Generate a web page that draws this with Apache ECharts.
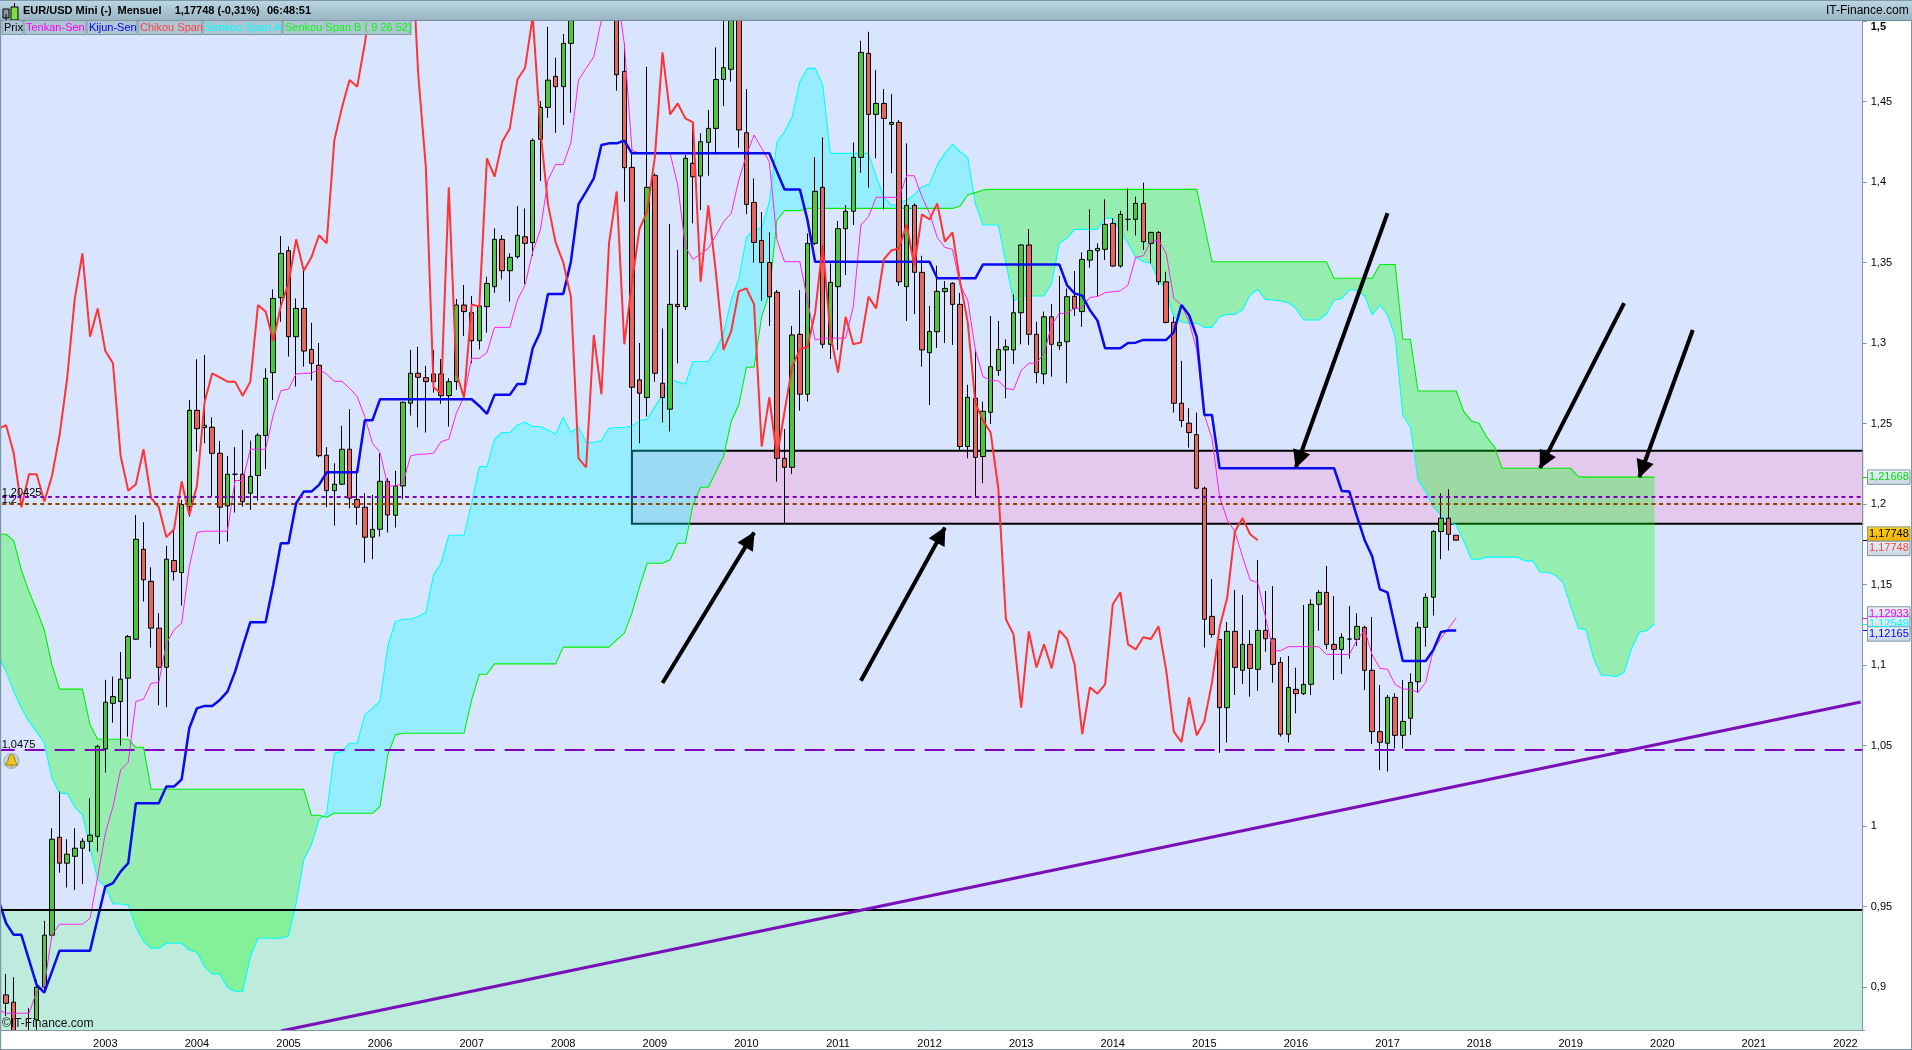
<!DOCTYPE html>
<html><head><meta charset="utf-8"><title>EUR/USD Mini</title>
<style>html,body{margin:0;padding:0;background:#fff}#c{width:1912px;height:1050px}</style>
<script src="https://cdn.jsdelivr.net/npm/echarts@6/dist/echarts.min.js"></script></head>
<body><div id="c"></div>
<script>
// monthly periods, index 0 = 2001-11
const categories = [];
for (let i = 0, y = 2001, m = 11; i < 245; i++) { categories.push(y + '-' + String(m).padStart(2, '0')); m++; if (m > 12) { m = 1; y++; } }
const yTicks = [0.9, 0.95, 1, 1.05, 1.1, 1.15, 1.2, 1.25, 1.3, 1.35, 1.4, 1.45, 1.5];

const opens = [.888,
.8951,.8906,.868,.865,.8796,.8999,.9322,.993,.9769,.9812,
.9862,.9905,.9936,1.0479,1.0762,1.0773,1.0918,1.116,1.1719,1.152,
1.1229,1.0986,1.1649,1.1574,1.1984,1.2582,1.2475,1.2477,1.2315,1.1988,
1.2185,1.2185,1.2067,1.2177,1.2425,1.2816,1.3281,1.3573,1.3039,1.3215,
1.296,1.2862,1.2303,1.2083,1.2123,1.234,1.2028,1.198,1.1794,1.1843,
1.2141,1.193,1.2112,1.2626,1.2812,1.2785,1.2808,1.2808,1.2673,1.276,
1.3236,1.319,1.3014,1.3226,1.335,1.3644,1.3449,1.3536,1.366,1.3623,
1.4265,1.4463,1.4656,1.4592,1.4861,1.5185,1.5806,1.561,1.5553,1.5755,
1.5595,1.4687,1.4091,1.2771,1.2661,1.4041,1.275,1.2589,1.324,1.3226,
1.4116,1.4037,1.4246,1.4333,1.4637,1.47,1.503,1.4306,1.3873,1.3637,
1.35,1.3315,1.2284,1.2228,1.3054,1.2682,1.3619,1.3967,1.2992,1.335,
1.371,1.3818,1.4153,1.4799,1.442,1.4488,1.4358,1.437,1.335,1.3855,
1.3439,1.294,1.307,1.3319,1.3371,1.324,1.2357,1.2657,1.2295,1.257,
1.2829,1.2957,1.2957,1.3188,1.3609,1.3054,1.2808,1.3163,1.2983,1.3008,
1.329,1.3195,1.3515,1.3573,1.3582,1.3743,1.3478,1.3768,1.3768,1.3867,
1.3619,1.3687,1.338,1.3128,1.2626,1.2502,1.2431,1.2098,1.1302,1.1159,
1.0735,1.1209,1.0967,1.1128,1.0973,1.1215,1.1163,1.1016,1.057,1.0849,
1.0822,1.088,1.1377,1.1451,1.1128,1.1097,1.1161,1.1159,1.1234,1.0967,
1.0586,1.0514,1.0799,1.0563,1.0669,1.0896,1.1234,1.1421,1.1829,1.1912,
1.1806];
const closes = [.8951,
.8899,.868,.865,.872,.8999,.9322,.9918,.9769,.9825,.9862,
.9905,.9943,1.0495,1.0769,1.0804,1.0912,1.1177,1.1781,1.1529,1.1229,
1.0986,1.1657,1.158,1.1997,1.2582,1.2468,1.2489,1.2315,1.198,1.2185,
1.2185,1.2015,1.2172,1.2427,1.2781,1.3277,1.3557,1.3039,1.3215,1.295,
1.2874,1.23,1.2083,1.2123,1.234,1.2036,1.198,1.1794,1.1843,1.2141,
1.1932,1.2112,1.2632,1.2812,1.2787,1.276,1.276,1.2673,1.276,1.3236,
1.3195,1.3014,1.323,1.337,1.3644,1.3449,1.3532,1.3669,1.3619,1.4258,
1.4463,1.4633,1.4592,1.4861,1.5185,1.5806,1.561,1.5553,1.5755,1.5595,
1.4666,1.4089,1.2725,1.2688,1.3967,1.2812,1.2661,1.324,1.3226,1.4147,
1.4033,1.425,1.4333,1.4637,1.471,1.503,1.4323,1.3861,1.3625,1.35,
1.3287,1.2284,1.2228,1.305,1.2682,1.3619,1.3942,1.2992,1.3377,1.371,
1.3818,1.4153,1.4805,1.442,1.4488,1.4395,1.437,1.338,1.3855,1.3439,
1.2957,1.3072,1.3321,1.3339,1.324,1.2357,1.2663,1.229,1.2576,1.2853,
1.296,1.2977,1.3188,1.3609,1.3054,1.2816,1.3163,1.2992,1.3004,1.3288,
1.3215,1.3519,1.3575,1.3588,1.3737,1.3478,1.3799,1.3768,1.3867,1.3629,
1.3687,1.338,1.3128,1.2626,1.2518,1.2444,1.2098,1.1284,1.119,1.0735,
1.1209,1.0985,1.1128,1.0979,1.1215,1.1163,1.1004,1.057,1.0861,1.0822,
1.088,1.1377,1.1451,1.1128,1.1097,1.1172,1.1161,1.124,1.0967,1.0586,
1.052,1.0799,1.0563,1.065,1.0892,1.1234,1.142,1.1829,1.1912,1.1812,
1.1775];
const lows = [.875,
.882,.86,.855,.86,.8734,.8982,.9299,.971,.9618,.9603,
.964,.9841,.9841,1.0332,1.0642,1.05,1.0555,1.1156,1.1394,1.1108,
1.075,1.0737,1.1525,1.1369,1.1922,1.2326,1.2377,1.2046,1.1752,1.1767,
1.1947,1.1984,1.1963,1.2021,1.2218,1.2646,1.3132,1.2916,1.273,1.2853,
1.2767,1.229,1.198,1.1866,1.2118,1.1974,1.187,1.1636,1.1657,1.1798,
1.1823,1.1854,1.203,1.2549,1.2475,1.2444,1.2692,1.2622,1.2481,1.2709,
1.3043,1.2874,1.296,1.3064,1.3312,1.3395,1.3257,1.3524,1.3366,1.354,
1.4006,1.4399,1.4306,1.4354,1.443,1.51,1.55,1.53,1.53,1.55,
1.4567,1.3877,1.2336,1.2377,1.2543,1.276,1.2506,1.245,1.2874,1.3205,
1.3743,1.3826,1.4039,1.4171,1.4472,1.4623,1.4213,1.38,1.35,1.3262,
1.3106,1.2139,1.188,1.2187,1.258,1.2636,1.3609,1.2967,1.29,1.2957,
1.3422,1.3733,1.4058,1.3965,1.4147,1.383,1.4054,1.3354,1.3137,1.318,
1.2853,1.2615,1.297,1.3,1.2988,1.2336,1.2284,1.2046,1.2129,1.2497,
1.2796,1.2657,1.287,1.2992,1.2988,1.275,1.2744,1.2791,1.2957,1.275,
1.3168,1.3101,1.3468,1.3288,1.3515,1.3474,1.3468,1.3698,1.3667,1.3578,
1.3495,1.336,1.3122,1.2568,1.2477,1.235,1.2092,1.1108,1.117,1.0455,
1.0518,1.0814,1.0882,1.0803,1.084,1.1083,1.089,1.0555,1.0518,1.07,
1.0814,1.0814,1.1213,1.1097,1.0907,1.0944,1.104,1.1118,1.0845,1.051,
1.0348,1.0338,1.0482,1.0482,1.0565,1.0828,1.1114,1.1307,1.1657,1.1711,
1.1775];
const highs = [.905,
.9081,.9061,.872,.8868,.9044,.9411,.9986,1.0214,.9918,.9986,
.9924,1.0172,1.0504,1.0908,1.0928,1.108,1.1187,1.1932,1.1887,1.1607,
1.1322,1.174,1.1839,1.2025,1.2646,1.2899,1.2926,1.2539,1.2392,1.2299,
1.2353,1.246,1.2394,1.244,1.2843,1.3333,1.3664,1.36,1.3277,1.3453,
1.3126,1.3,1.2353,1.2253,1.2485,1.2589,1.2216,1.2067,1.2057,1.2315,
1.216,1.2206,1.2636,1.2957,1.2977,1.2858,1.2957,1.29,1.2781,1.3273,
1.336,1.3292,1.3238,1.3412,1.3712,1.367,1.3557,1.385,1.3836,1.4271,
1.4503,1.4964,1.4772,1.4919,1.5225,1.5906,1.6019,1.5816,1.5845,1.6038,
1.5,1.4861,1.4174,1.3,1.4716,1.4054,1.309,1.3739,1.3578,1.4167,
1.4374,1.4302,1.4447,1.4836,1.5034,1.5144,1.515,1.4577,1.4022,1.3813,
1.3687,1.3329,1.2466,1.3106,1.3329,1.3681,1.4153,1.4277,1.3495,1.3758,
1.3857,1.4246,1.4877,1.4933,1.4695,1.4577,1.4546,1.4385,1.424,1.3867,
1.3542,1.323,1.348,1.3385,1.3377,1.331,1.274,1.2957,1.2636,1.3167,
1.3137,1.3023,1.3302,1.3613,1.3708,1.3132,1.3195,1.3242,1.3416,1.3339,
1.3447,1.3563,1.383,1.3619,1.3892,1.3774,1.3822,1.396,1.3909,1.3996,
1.3691,1.3695,1.3443,1.3163,1.2889,1.2595,1.2568,1.2108,1.1534,1.1159,
1.1267,1.1466,1.1435,1.1217,1.1652,1.146,1.1491,1.1048,1.1056,1.0983,
1.1373,1.1408,1.1466,1.1615,1.1428,1.1197,1.1366,1.1321,1.1244,1.1298,
1.0876,1.0814,1.0824,1.0907,1.0948,1.1267,1.1445,1.1839,1.2067,1.2092,
1.1806];
const tenkan = [.8858,
.8837,.8837,.8837,.8837,.8972,.9003,.9324,.939,.939,.939,
.939,.9427,.9686,.9955,1.0121,1.0348,1.0396,1.0773,1.0788,1.0887,
1.0891,1.1135,1.1218,1.126,1.1611,1.1823,1.1831,1.1831,1.1831,1.1831,
1.2146,1.2146,1.234,1.234,1.234,1.2553,1.2704,1.2713,1.2808,1.2812,
1.2812,1.2839,1.2806,1.2762,1.2762,1.2719,1.2667,1.2543,1.2377,1.2321,
1.2112,1.2112,1.2129,1.2299,1.2309,1.231,1.2315,1.2388,1.2402,1.2564,
1.2667,1.2905,1.2905,1.294,1.3097,1.3097,1.3097,1.3267,1.336,1.3567,
1.3702,1.4012,1.4109,1.4109,1.4244,1.4633,1.4706,1.4778,1.5006,1.52,
1.52,1.486,1.4198,1.4178,1.4178,1.4178,1.4178,1.4178,1.3981,1.3598,
1.352,1.3551,1.3588,1.3666,1.3753,1.3805,1.4012,1.4167,1.4292,1.4209,
1.4126,1.364,1.3505,1.3505,1.3505,1.3267,1.3019,1.303,1.303,1.303,
1.303,1.3226,1.3733,1.3785,1.3905,1.3905,1.3905,1.3905,1.4039,1.4039,
1.3909,1.3805,1.3656,1.3594,1.3582,1.336,1.3267,1.2957,1.2791,1.2767,
1.2765,1.2719,1.2709,1.283,1.2874,1.2874,1.2936,1.3112,1.3184,1.3184,
1.3215,1.3221,1.3283,1.3288,1.3313,1.3319,1.3323,1.336,1.3532,1.3542,
1.3629,1.364,1.3557,1.3277,1.3236,1.3132,1.2957,1.2553,1.2408,1.2046,
1.1901,1.1829,1.1674,1.1528,1.1511,1.13,1.1089,1.1089,1.1114,1.1114,
1.1114,1.1114,1.1114,1.1066,1.1066,1.1066,1.1066,1.1155,1.1217,1.1062,
1.098,1.0973,1.088,1.0851,1.0849,1.083,1.0892,1.1093,1.1166,1.1228,
1.1293];
const kijun = [.9541,
.9396,.9324,.9324,.9168,.9013,.8965,.9096,.9226,.9226,.9226,
.9226,.9226,.9427,.9624,.9645,.9717,.9769,1.0141,1.0141,1.0141,
1.0141,1.0245,1.0245,1.029,1.0607,1.0731,1.0746,1.0746,1.0783,1.0835,
1.0959,1.1115,1.1266,1.1266,1.1266,1.1498,1.1756,1.1756,1.2005,1.2077,
1.2077,1.2119,1.2197,1.2197,1.2197,1.2197,1.2197,1.252,1.252,1.2651,
1.2651,1.2651,1.2651,1.2651,1.2651,1.2651,1.2651,1.2651,1.2651,1.2651,
1.2651,1.2651,1.2609,1.256,1.2678,1.2678,1.2678,1.2746,1.2746,1.2967,
1.307,1.3304,1.3304,1.3304,1.3505,1.3863,1.394,1.4023,1.423,1.424,
1.424,1.4257,1.4178,1.4178,1.4178,1.4178,1.4178,1.4178,1.4178,1.4178,
1.4178,1.4178,1.4178,1.4178,1.4178,1.4178,1.4178,1.4178,1.4178,1.4178,
1.4178,1.4064,1.3954,1.3954,1.3954,1.3764,1.3505,1.3505,1.3505,1.3505,
1.3505,1.3505,1.3505,1.3505,1.3505,1.3505,1.3505,1.3505,1.3505,1.3505,
1.3505,1.3505,1.3402,1.3402,1.3402,1.3402,1.3402,1.3402,1.3488,1.3488,
1.3488,1.3488,1.3488,1.3488,1.3488,1.3488,1.3488,1.3488,1.3488,1.336,
1.3308,1.3294,1.3205,1.3139,1.2967,1.2967,1.2967,1.3,1.3002,1.3019,
1.3019,1.3019,1.3019,1.3066,1.3236,1.3174,1.3039,1.2553,1.2553,1.2222,
1.2222,1.2222,1.2222,1.2222,1.2222,1.2222,1.2222,1.2222,1.2222,1.2222,
1.2222,1.2222,1.2222,1.2222,1.2222,1.2081,1.2077,1.1922,1.1777,1.1674,
1.147,1.1451,1.1238,1.1025,1.1025,1.1025,1.1025,1.1093,1.1205,1.1215,
1.1215];
const chikou = [1.2468,
1.2489,1.2315,1.198,1.2185,1.2185,1.2015,1.2172,1.2427,1.2781,1.3277,
1.3557,1.3039,1.3215,1.295,1.2874,1.23,1.2083,1.2123,1.234,1.2036,
1.198,1.1794,1.1843,1.2141,1.1932,1.2112,1.2632,1.2812,1.2787,1.276,
1.276,1.2673,1.276,1.3236,1.3195,1.3014,1.323,1.337,1.3644,1.3449,
1.3532,1.3669,1.3619,1.4258,1.4463,1.4633,1.4592,1.4861,1.5185,1.5806,
1.561,1.5553,1.5755,1.5595,1.4666,1.4089,1.2725,1.2688,1.3967,1.2812,
1.2661,1.324,1.3226,1.4147,1.4033,1.425,1.4333,1.4637,1.471,1.503,
1.4323,1.3861,1.3625,1.35,1.3287,1.2284,1.2228,1.305,1.2682,1.3619,
1.3942,1.2992,1.3377,1.371,1.3818,1.4153,1.4805,1.442,1.4488,1.4395,
1.437,1.338,1.3855,1.3439,1.2957,1.3072,1.3321,1.3339,1.324,1.2357,
1.2663,1.229,1.2576,1.2853,1.296,1.2977,1.3188,1.3609,1.3054,1.2816,
1.3163,1.2992,1.3004,1.3288,1.3215,1.3519,1.3575,1.3588,1.3737,1.3478,
1.3799,1.3768,1.3867,1.3629,1.3687,1.338,1.3128,1.2626,1.2518,1.2444,
1.2098,1.1284,1.119,1.0735,1.1209,1.0985,1.1128,1.0979,1.1215,1.1163,
1.1004,1.057,1.0861,1.0822,1.088,1.1377,1.1451,1.1128,1.1097,1.1172,
1.1161,1.124,1.0967,1.0586,1.052,1.0799,1.0563,1.065,1.0892,1.1234,
1.142,1.1829,1.1912,1.1812,1.1775];
const senkouA = [1.1053,
1.0959,1.0835,1.0731,1.0648,1.0586,1.0514,1.0297,1.0203,1.0203,1.0116,
1.0069,.9862,.967,.9624,.9516,.9516,.951,.9375,.9282,.9241,
.9241,.9272,.9272,.9272,.923,.9216,.9127,.9081,.9081,.8999,
.8972,.8972,.9189,.9303,.9303,.9303,.9303,.9317,.952,.9789,
.9883,1.0038,1.0079,1.0452,1.0462,1.0514,1.0514,1.069,1.0731,1.0777,
1.1115,1.127,1.1284,1.1284,1.1301,1.1326,1.156,1.1632,1.1806,1.1806,
1.1806,1.2005,1.2232,1.2232,1.2402,1.2444,1.2444,1.2491,1.2508,1.2481,
1.2481,1.246,1.2433,1.2539,1.2444,1.2481,1.2384,1.2382,1.2394,1.2471,
1.2475,1.2475,1.2485,1.2518,1.2526,1.2605,1.2678,1.2771,1.276,1.2744,
1.2885,1.2885,1.2885,1.2957,1.306,1.3267,1.3395,1.3656,1.3702,1.3712,
1.3878,1.425,1.4312,1.4406,1.4623,1.4706,1.4706,1.4602,1.4178,1.4178,
1.4178,1.4178,1.4178,1.4178,1.4033,1.3909,1.3853,1.3867,1.3888,1.3919,
1.3971,1.3987,1.4105,1.4178,1.4234,1.4188,1.4153,1.3863,1.3733,1.3733,
1.3733,1.3495,1.3261,1.3292,1.3292,1.3292,1.3292,1.337,1.3619,1.365,
1.3706,1.3706,1.3706,1.3706,1.3774,1.3774,1.3691,1.3619,1.3532,1.3505,
1.3495,1.3391,1.3329,1.3163,1.3132,1.3122,1.3122,1.3097,1.3097,1.3163,
1.3178,1.3178,1.3205,1.3298,1.3333,1.3271,1.3267,1.3261,1.325,1.3215,
1.3143,1.3143,1.3143,1.318,1.3267,1.3277,1.3329,1.3329,1.3292,1.3174,
1.3236,1.3174,1.3039,1.2553,1.2477,1.215,1.2077,1.1984,1.1932,1.1891,
1.187,1.1767,1.1657,1.1657,1.167,1.167,1.167,1.167,1.167,1.1647,
1.1647,1.1576,1.1576,1.1558,1.1512,1.1363,1.1229,1.1218,1.1042,1.0937,
1.0935,1.0928,1.0953,1.1104,1.1204,1.1214,1.1255];
const senkouB = [1.1814,
1.1812,1.1773,1.159,1.1456,1.1342,1.1218,1.1001,1.085,1.085,1.085,
1.085,1.0628,1.0539,1.0539,1.0539,1.0539,1.0539,1.0489,1.0489,1.0228,
1.0228,1.0228,1.0228,1.0228,1.0228,1.0228,1.0228,1.0228,1.0228,1.0228,
1.0228,1.0228,1.0228,1.0228,1.0228,1.0228,1.0228,1.0228,1.0228,1.0228,
1.0067,1.0067,1.0054,1.0079,1.0079,1.0079,1.0079,1.0079,1.0079,1.0121,
1.0441,1.0566,1.0576,1.0576,1.0576,1.0576,1.0576,1.0576,1.0576,1.0576,
1.0576,1.0783,1.0943,1.0943,1.1007,1.1007,1.1007,1.1007,1.1007,1.1007,
1.1007,1.1007,1.1007,1.1111,1.1111,1.1111,1.1111,1.1111,1.1111,1.1111,
1.1156,1.1198,1.1322,1.1487,1.1632,1.1632,1.1632,1.1653,1.1756,1.1756,
1.1994,1.2104,1.2104,1.2201,1.2295,1.2512,1.2615,1.2849,1.2849,1.3164,
1.3308,1.3764,1.3822,1.3822,1.3822,1.3836,1.3836,1.3836,1.3836,1.3836,
1.3836,1.3836,1.3836,1.3836,1.3836,1.3836,1.3836,1.3836,1.3836,1.3836,
1.3836,1.3836,1.3836,1.3836,1.3836,1.3851,1.3919,1.3934,1.395,1.3954,
1.3954,1.3954,1.3954,1.3954,1.3954,1.3954,1.3954,1.3954,1.3954,1.3954,
1.3954,1.3954,1.3954,1.3954,1.3954,1.3954,1.3954,1.3954,1.3954,1.3954,
1.3954,1.3954,1.3954,1.3954,1.3954,1.3954,1.3954,1.3733,1.3505,1.3505,
1.3505,1.3505,1.3505,1.3505,1.3505,1.3505,1.3505,1.3505,1.3505,1.3505,
1.3505,1.3505,1.3505,1.3505,1.3402,1.3402,1.3402,1.3402,1.3402,1.3402,
1.3488,1.3488,1.3488,1.3023,1.3023,1.2702,1.2702,1.2702,1.2702,1.2702,
1.2702,1.2574,1.2516,1.2501,1.2415,1.2357,1.2222,1.2222,1.2222,1.2222,
1.2222,1.2222,1.2222,1.2222,1.2222,1.2222,1.217,1.2167,1.2167,1.2167,
1.2167,1.2167,1.2167,1.2167,1.2167,1.2167,1.2167];

// annotations: [from index, from price, to index, to price]
const arrows = [[87,1.0888,99,1.1822],[113,1.0902,124,1.1853],[182,1.3807,170,1.2228],[213,1.3248,202,1.2224],[222,1.3081,215,1.2168]];
const trendLine = [[37,.8727],[244,1.077]];
const supportBand = [83,1.2331,1.1878];       // start index, top, bottom
const lowerZoneTop = .948;
const pivots = [{v:1.20425,t:'1,20425',c:'#8000c0',d:[4,3.6]},{v:1.2,t:'1,2',c:'#8c4400',d:[4,3.6]},{v:1.0475,t:'1,0475',c:'#8000c0',d:[20,10]}];
const lastLabels = [
 {v:1.21668,t:'1,21668',c:'#00e000',off:0,tick:'#00e000'},
 {v:1.17748,t:'1,17748',c:'#000',off:-6.2,gold:true,tick:'#000'},
 {v:1.17748,t:'1,17748',c:'#ff4040',off:8.2},
 {v:1.12933,t:'1,12933',c:'#ff00ff',off:-3.8,tick:'#ff00ff'},
 {v:1.12549,t:'1,12549',c:'#00ffff',off:0,tick:'#00ffff'},
 {v:1.12165,t:'1,12165',c:'#0000ff',off:3.8,tick:'#0000ff'}
];
const legendTabs = [['Prix','#000',2,23],['Tenkan-Sen','#ff00ff',24,86],['Kijun-Sen','#0000ff',87,137],['Chikou Span','#ff4040',138,202],['Senkou Span A','#00ffff',203,282],['Senkou Span B ( 9 26 52)','#00ff00',283,411]];

const FONT = '"Liberation Sans",Arial,sans-serif';
const GRID = {left:-5.332, top:21, width:1869.84, height:1009, outerBoundsMode:'none', containLabel:false};
const chart = echarts.init(document.getElementById('c'), null, {renderer:'canvas'});
const candles = opens.map((o,i)=>[o,closes[i],lows[i],highs[i]]);
const isYear = i => i >= 14 && i % 12 === 2;
const tr = (data,name,color,width,z) => ({type:'line',name,data,symbol:'none',silent:true,z,lineStyle:{color,width},animation:false});

function renderZones(params, api){
  const cs = params.coordSys;
  const a = api.coord([supportBand[0], supportBand[1]]), b = api.coord([supportBand[0], supportBand[2]]);
  const z = api.coord([0, lowerZoneTop]);
  return {type:'group',children:[
    {type:'rect',shape:{x:cs.x,y:z[1],width:cs.width,height:cs.y+cs.height-z[1]},style:{fill:'#bdebdc'}},
    {type:'rect',shape:{x:a[0],y:a[1],width:cs.x+cs.width-a[0],height:b[1]-a[1]},style:{fill:'#e2c9ed',stroke:'#000',lineWidth:2}}
  ]};
}
function renderCloud(params, api){
  const A=[],B=[]; for(let i=0;i<senkouA.length;i++){A.push(api.coord([i,senkouA[i]]));B.push(api.coord([i,senkouB[i]]));}
  const kids=[]; let top=[],bot=[],sign=Math.sign(senkouA[0]-senkouB[0]);
  const flush=()=>{kids.push({type:'polygon',shape:{points:top.concat(bot.slice().reverse())},style:{fill:sign>0?'rgba(0,255,255,.31)':'rgba(0,255,0,.31)'}});};
  for(let i=0;i<A.length;i++){
    const d=senkouA[i]-senkouB[i], s=Math.sign(d);
    if(i>0&&s!==0&&s!==sign){
      const d0=senkouA[i-1]-senkouB[i-1], t=d0/(d0-d);
      const p=[A[i-1][0]+t*(A[i][0]-A[i-1][0]),A[i-1][1]+t*(A[i][1]-A[i-1][1])];
      top.push(p);bot.push(p);flush();top=[p];bot=[p];sign=s;
    }
    top.push(A[i]);bot.push(B[i]);
  }
  flush();
  return {type:'group',children:kids};
}

const option = {
  animation:false, backgroundColor:'#fff',
  grid:Object.assign({show:true,backgroundColor:'#d9e5ff',borderWidth:0},GRID),
  xAxis:{type:'category',data:categories,boundaryGap:true,z:20,
    axisLine:{lineStyle:{color:'#7f98a6',width:1}},
    axisTick:{length:4,alignWithLabel:true,interval:i=>isYear(i),lineStyle:{color:'#7f98a6'}},
    axisLabel:{interval:i=>isYear(i),formatter:v=>v.slice(0,4),fontFamily:FONT,fontSize:11,color:'#000',margin:8},splitLine:{show:false}},
  yAxis:{type:'value',position:'right',offset:-1.8,min:.8733,max:1.5,z:20,scale:true,
    axisLine:{show:true,lineStyle:{color:'#7f98a6',width:1}},
    axisTick:{show:true,length:4,customValues:yTicks,lineStyle:{color:'#7f98a6'}},
    axisLabel:{customValues:yTicks,margin:8,verticalAlignMaxLabel:'top',fontFamily:FONT,fontSize:11,color:'#000',
      formatter:v=>{const s=String(+v.toFixed(2)).replace('.',',');return v>=1.5?'{b|'+s+'}':s;},rich:{b:{fontWeight:'bold',fontFamily:FONT,fontSize:11,color:'#000'}}},
    splitLine:{show:false}},
  series:[
    {type:'custom',name:'Zones',silent:true,z:1,renderItem:renderZones,data:[[0,lowerZoneTop]]},
    {type:'custom',name:'Kumo',silent:true,z:2,renderItem:renderCloud,data:[[0,senkouA[0]]]},
    tr(senkouA,'Senkou Span A','#00ffff',1.1,2),
    tr(senkouB,'Senkou Span B','#00ee00',1.1,2),
    {type:'candlestick',name:'Prix',data:candles,barWidth:5,silent:true,z:3,
      itemStyle:{color:'#48c83c',color0:'#e8645c',borderColor:'#000',borderColor0:'#000',borderWidth:1}},
    Object.assign(tr(tenkan,'Tenkan-Sen','#ff20f0',1,4),{markLine:{silent:true,symbol:'none',z:5,precision:6,animation:false,
      data:pivots.map(p=>({yAxis:p.v,lineStyle:{color:p.c,type:p.d,width:2},
        label:{show:true,formatter:p.t,position:'insideStartTop',distance:-1,color:'#000',fontFamily:FONT,fontSize:11,padding:[0,0,0,8]}}))
        .concat([{yAxis:lowerZoneTop,lineStyle:{color:'#000',type:'solid',width:2},label:{show:false}}])}}),
    tr(kijun,'Kijun-Sen','#0a0aee',2.5,4),
    tr(chikou,'Chikou Span','#ff3333',2,4),
    Object.assign(tr(trendLine,'Trend','#7a10b8',3.2,5),{markLine:{silent:true,z:6,precision:6,symbol:['none','triangle'],symbolSize:18,symbolOffset:[[0,0],[0,8]],animation:false,label:{show:false},
      lineStyle:{color:'#000',type:'solid',width:4},
      data:arrows.map(a=>[{xAxis:a[0],yAxis:a[1]},{xAxis:a[2],yAxis:a[3]}])}})
  ]
};
chart.setOption(option);

// chrome drawn around the plot; right-hand labels are placed through the y scale
const T=(text,x,y,fill,font,z)=>({type:'text',z:z||40,silent:true,style:{text,x,y,fill,font:(font||'11px')+' '+FONT,textVerticalAlign:'middle'}});
const G=(a,b)=>new echarts.graphic.LinearGradient(0,0,0,1,[{offset:0,color:a},{offset:1,color:b}]);
const R=(x,y,w,h,fill,stroke,z)=>({type:'rect',z:z||30,silent:true,shape:{x,y,width:w,height:h},style:{fill,stroke:stroke||null,lineWidth:1}});
const els=[
  R(1863.2,21,48.8,1010,'#fff',null,10), R(0,1030.5,1912,19,'#fff',null,10),
  R(0,21,1.2,1028,'#7f98a6',null,30), R(0,1049,1912,1,'#7f98a6',null,30), R(1911,21,1,1029,'#7f98a6',null,30),
  R(0,0,1912,20.5,G('#bcd8e4','#98b4c2'),null,30), R(0,0,1912,1,'#7f98a6',null,31), R(0,20,1912,1,'#6f8a98',null,31),
  R(3,9,6,9,'#8a9aa4','#000',32),R(5.5,14,1,6,'#000',null,32),
  R(11,7,7,13,'#7ee03c','#000',32),R(14,3,1,4,'#000',null,32),
  T('EUR/USD Mini (-)',23,11,'#000','bold 11px'),
  T('Mensuel',117.5,11,'#000','bold 11px'),
  T('1,17748 (-0,31%)',174.7,11,'#000','bold 11px'),
  T('06:48:51',267,11,'#000','bold 11px'),
  T('IT-Finance.com',1826,11,'#000','12px'),
  T('©IT-Finance.com',2,1024,'#111','12px'),
  // bell marker
  {type:'circle',z:32,silent:true,shape:{cx:11.5,cy:761,r:7.5},style:{fill:'#c8d4e0',stroke:'#9aa8b4',lineWidth:1}},
  {type:'polygon',z:33,silent:true,shape:{points:[[11.5,754.5],[13.5,755.5],[14.6,758],[15,761],[17.3,764],[17.3,765],[5.7,765],[5.7,764],[8,761],[8.4,758],[9.5,755.5]]},style:{fill:'#f0c81c',stroke:'#8a6a00',lineWidth:.8}},
  {type:'circle',z:33,silent:true,shape:{cx:11.5,cy:766,r:1.4},style:{fill:'#c89a00'}}
];
legendTabs.forEach(t=>{els.push(R(t[2],20.5,t[3]-t[2],14,'#aec6d4','#7f98a6',32));els.push(T(t[0],t[2]+2,28,t[1]));});
lastLabels.forEach(l=>{
  const y=chart.convertToPixel({yAxisIndex:0},l.v), cy=y+l.off;
  if(l.tick) els.push(R(1863,Math.round(y),4,1,l.tick,null,31));
  els.push(R(1867.5,cy-7.2,42.5,14.4,l.gold?G('#ffd21e','#f2ae00'):G('#eef4fa','#c6d4e2'),'#7f98a6',32));
  els.push(T(l.t,1869,cy,l.c,'11px',33));
});
chart.setOption({graphic:{elements:els}});
</script></body></html>
